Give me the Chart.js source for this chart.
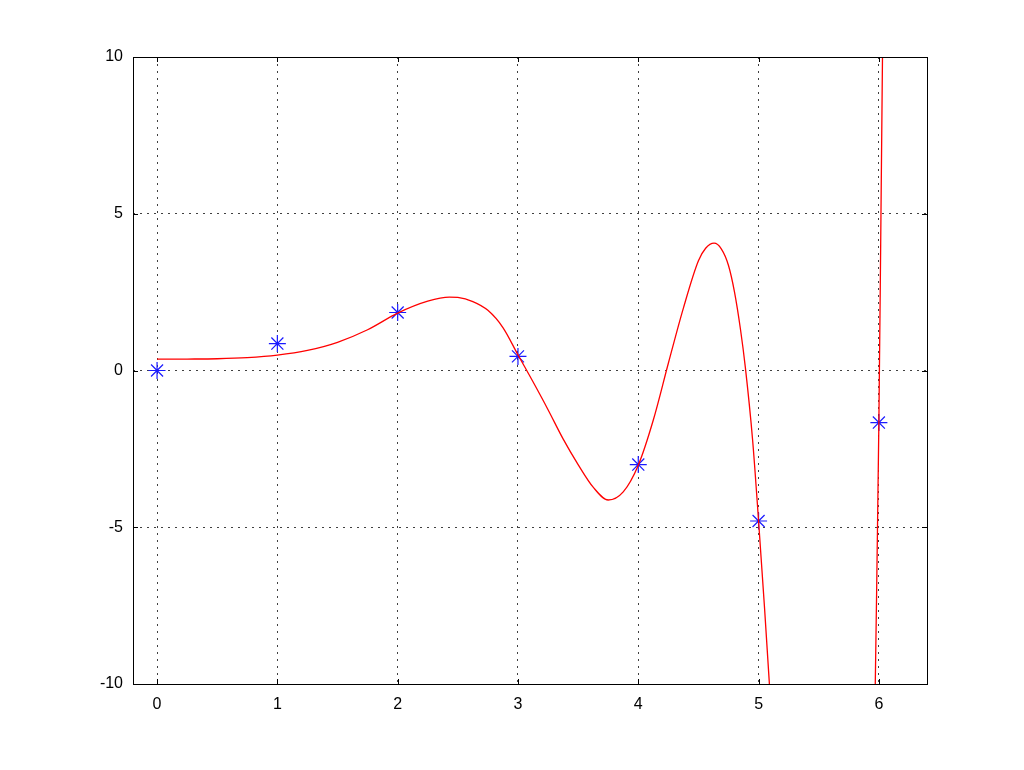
<!DOCTYPE html>
<html>
<head>
<meta charset="utf-8">
<script src="https://cdn.jsdelivr.net/npm/chart.js@4"></script>
<style>
  html, body { margin: 0; padding: 0; background: #fff; }
  #wrap { width: 1024px; height: 770px; }
</style>
</head>
<body>
<div id="wrap"><canvas id="plot" width="1024" height="770"></canvas></div>
<script>
// --- sample points (blue stars) ---
const starX = [0, 1, 2, 3, 4, 5, 6];
const starY = [0, 0.86, 1.85, 0.45, -3.0, -4.8, -1.66];

// --- red curve ---
const curveX = [0, 0.25, 0.5, 0.75, 1, 1.25, 1.5, 1.75, 2, 2.25, 2.43, 2.5, 2.625, 2.75, 2.875, 3,
                3.125, 3.25, 3.375, 3.5, 3.625, 3.75, 3.875, 4, 4.125, 4.25, 4.375, 4.5, 4.56, 4.63,
                4.69, 4.75, 4.8, 4.85, 4.89, 4.95, 5, 5.05, 5.09, 5.15, 5.3, 5.6, 5.85, 5.94, 5.97,
                5.985, 6, 6.015, 6.03, 6.05];
const curveY = [0.36, 0.365, 0.375, 0.41, 0.49, 0.64, 0.9, 1.3, 1.83, 2.21, 2.34, 2.33, 2.2, 1.92, 1.37, 0.5,
                -0.36, -1.25, -2.18, -3.0, -3.72, -4.13, -3.87, -3.02, -1.58, 0.23, 1.99, 3.5, 3.9, 4.06,
                3.88, 3.35, 2.5, 1.3, 0.1, -2.2, -4.8, -7.6, -10, -14, -22, -30, -22, -14, -10,
                -6, -1.66, 4, 10, 16];

// axis ticks
const xTicks = [0, 1, 2, 3, 4, 5, 6];
const yTicks = [-10, -5, 0, 5, 10];

const toPts = (xs, ys) => xs.map((x, i) => ({ x: x, y: ys[i] }));

// box round the plot + short inward ticks, like octave
const boxPlugin = {
    id: 'box',
    afterDraw(chart) {
        const { ctx, chartArea: a, scales } = chart;
        ctx.save();
        ctx.strokeStyle = '#000';
        ctx.lineWidth = 1;
        ctx.beginPath();
        xTicks.forEach(v => {
            const px = Math.round(scales.x.getPixelForValue(v)) + 0.5;
            ctx.moveTo(px, a.bottom); ctx.lineTo(px, a.bottom - 5);
            ctx.moveTo(px, a.top); ctx.lineTo(px, a.top + 5);
        });
        yTicks.forEach(v => {
            const py = Math.round(scales.y.getPixelForValue(v)) + 0.5;
            ctx.moveTo(a.left, py); ctx.lineTo(a.left + 5, py);
            ctx.moveTo(a.right, py); ctx.lineTo(a.right - 5, py);
        });
        ctx.stroke();
        ctx.strokeRect(Math.round(a.left) + 0.5, Math.round(a.top) + 0.5,
                       Math.round(a.right - a.left), Math.round(a.bottom - a.top));
        ctx.restore();
    }
};

const tickFont = { family: '"Liberation Sans", Arial, sans-serif', size: 16 };
const gridOpts = { color: 'rgba(0,0,0,0.75)', lineWidth: 1, drawTicks: false, borderDash: [2, 5] };

new Chart(document.getElementById('plot'), {
    type: 'scatter',
    data: {
        datasets: [
            {
                data: toPts(curveX, curveY),
                showLine: true,
                borderColor: '#ff0000',
                borderWidth: 1.3,
                pointRadius: 0,
                cubicInterpolationMode: 'monotone'
            },
            {
                data: toPts(starX, starY),
                showLine: false,
                pointStyle: 'star',
                pointRadius: 8.5,
                borderColor: '#1a1aff',
                backgroundColor: '#1a1aff',
                pointBorderWidth: 1.2
            }
        ]
    },
    options: {
        responsive: false,
        animation: false,
        events: [],
        layout: { padding: { left: 93, right: 97, top: 57, bottom: 46 } },
        plugins: { legend: { display: false }, tooltip: { enabled: false } },
        scales: {
            x: {
                type: 'linear', min: -0.2, max: 6.4,
                afterBuildTicks: s => { s.ticks = xTicks.map(v => ({ value: v })); },
                afterFit: s => { s.height = 40; },
                grid: gridOpts,
                border: { display: false, dash: [2, 5] },
                ticks: { font: tickFont, color: '#000', padding: 11, maxRotation: 0 }
            },
            y: {
                type: 'linear', min: -10, max: 10,
                afterBuildTicks: s => { s.ticks = yTicks.map(v => ({ value: v })); },
                afterFit: s => { s.width = 40; },
                grid: gridOpts,
                border: { display: false, dash: [2, 5] },
                ticks: { font: tickFont, color: '#000', padding: 10 }
            }
        }
    },
    plugins: [boxPlugin]
});
</script>
</body>
</html>
